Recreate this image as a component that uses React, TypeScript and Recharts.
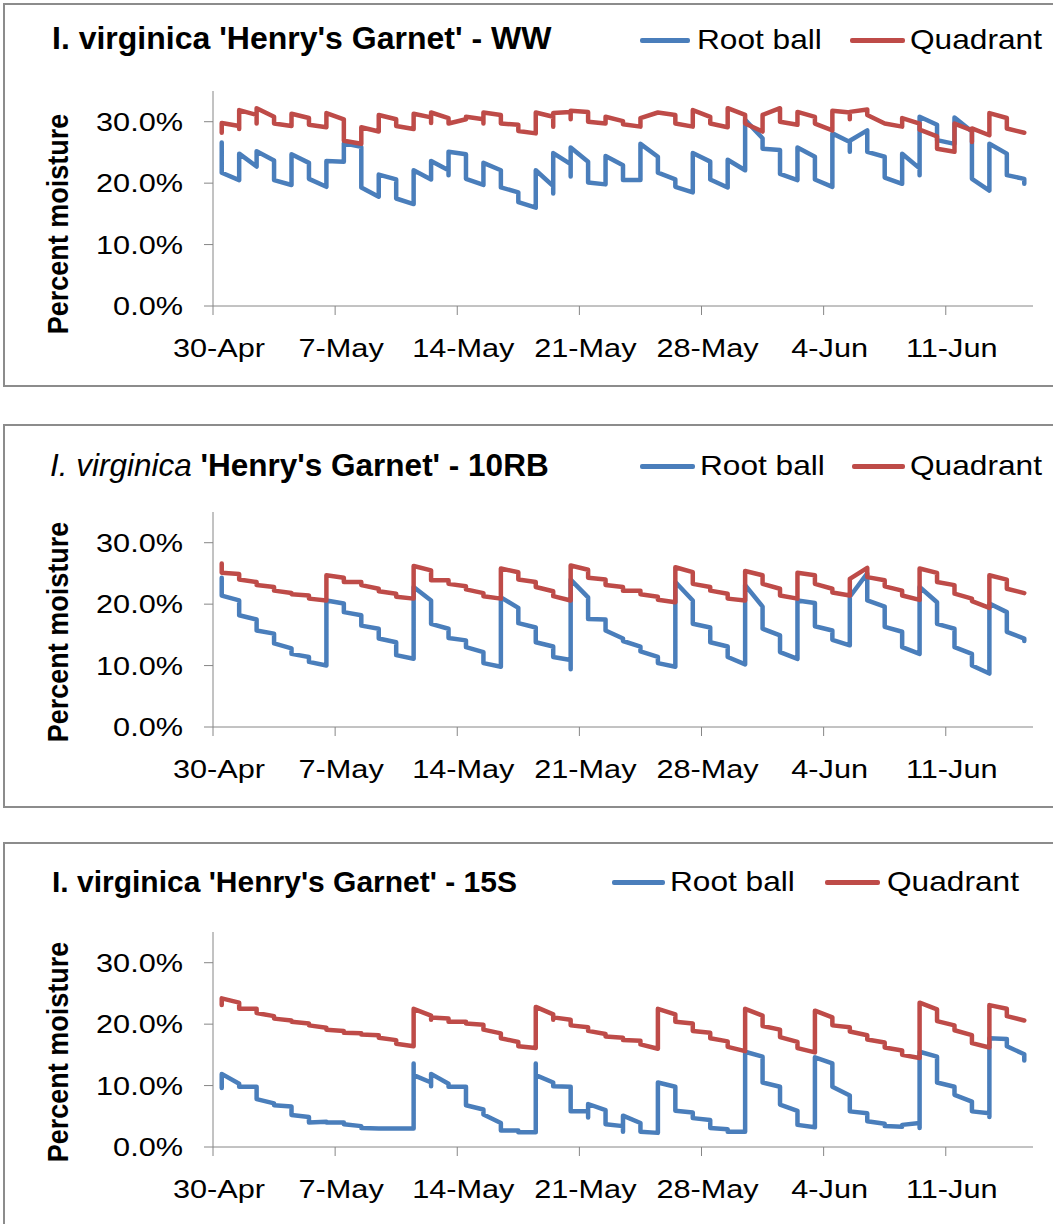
import React from 'react';
import { LineChart, Line, XAxis, YAxis, Label } from 'recharts';

// x = days since 30-Apr, ticks weekly
const DAY_TICKS = [0, 7, 14, 21, 28, 35, 42];
const DAY_LABELS = ['30-Apr', '7-May', '14-May', '21-May', '28-May', '4-Jun', '11-Jun'];
const PCT_TICKS = [0, 10, 20, 30];

// readings per day (% moisture), one inner list per day from 30-Apr to 15-Jun
const wwRootBall = [
  [26.6, 21.7], [20.5, 24.8], [22.7, 25.2], [23.7, 20.5], [19.7, 24.7], [23.3, 20.7], [19.4, 23.6],
  [23.5, 26.5], [25.9, 19.3], [17.8, 21.4], [20.6, 17.5], [16.6, 22.1], [20.6, 23.6], [22.1, 21.3, 25.1],
  [24.7, 20.7], [19.7, 23.3], [22.1, 19.3], [18.5, 16.9], [16.0, 22.1], [19.5, 18.3, 24.9], [23.1, 21.1, 25.8],
  [23.5, 20.1], [19.8, 24.4], [22.9, 20.5], [20.5, 26.4], [24.3, 21.7], [20.6, 19.4], [18.5, 24.9],
  [23.5, 20.6], [19.3, 23.8], [22.1, 30.3], [27.3, 25.6], [25.4, 21.5], [20.5, 25.8], [24.3, 20.6],
  [19.4, 28.1], [26.7, 25.1, 26.9], [28.6, 25.1], [24.3, 20.9], [19.9, 24.8], [22.4, 21.3, 30.8],
  [29.5, 27.0], [26.4, 30.7], [28.4, 20.7], [18.8, 26.4], [24.8, 21.3], [20.7, 19.9],
];
const wwQuadrant = [
  [28.2, 29.8], [29.3, 28.8, 31.9], [31.1, 29.7, 32.2], [30.8, 29.7], [29.3, 31.3], [30.6, 29.5], [29.1, 31.4],
  [30.4, 26.9], [26.4, 29.1], [28.4, 31.1], [30.4, 29.3], [28.8, 31.3], [30.7, 29.8, 31.5], [30.6, 29.7],
  [30.4, 30.8], [30.4, 29.7, 31.5], [31.1, 29.7], [29.5, 28.5], [28.1, 31.5], [30.8, 29.2, 31.4], [31.6, 30.4, 31.8],
  [31.6, 30.0], [29.7, 30.8], [30.1, 29.6], [29.2, 30.6], [31.5], [31.1, 29.7], [29.2, 31.9],
  [30.8, 29.7], [29.1, 32.2], [31.1, 29.7], [28.4, 31.1], [32.2, 30.0], [29.5, 31.6], [30.8, 29.7],
  [28.6, 31.8], [31.5, 30.4, 31.6], [32.0, 31.1], [29.7], [29.2, 30.6], [29.7, 28.7],
  [27.6, 25.6], [25.1, 29.7], [28.6, 26.7, 28.9], [27.8, 31.4], [30.6, 28.9], [28.2],
];

const rbRootBall = [
  [24.3, 21.4], [20.6, 18.2], [17.5, 15.7], [15.2, 13.6], [12.8, 11.9], [11.4, 10.6], [10.0, 20.6],
  [20.1, 18.7], [18.2, 16.5], [16.0, 14.4], [13.8, 11.7], [11.1, 22.8], [20.6, 16.8], [16.0, 14.5],
  [14.1, 13.0], [12.2, 10.4], [9.8, 21.1], [19.4, 16.9], [16.2, 13.8], [13.1, 11.4], [10.9, 9.4, 24.0],
  [21.1, 17.6], [17.5, 15.7], [14.4, 14.0], [13.1, 12.3], [11.4, 10.4], [9.8, 23.6], [20.6, 16.8],
  [16.2, 13.8], [13.1, 11.4], [10.2, 23.1], [19.6, 16.0], [14.9, 12.2], [11.1, 20.6], [20.2, 16.4],
  [15.7, 14.2], [13.3, 21.2], [25.0, 20.6], [19.6, 16.3], [15.5, 13.0], [11.9, 22.8],
  [20.3, 16.8], [16.0, 13.0], [11.9, 10.0], [8.7, 20.1], [18.7, 15.5], [14.4, 14.0],
];
const rbQuadrant = [
  [26.6, 25.1], [24.9, 24.0], [23.6, 23.1], [22.8, 22.2], [21.8, 21.6], [21.4, 20.9], [20.6, 24.7],
  [24.3, 23.6], [23.6, 23.1], [22.5, 22.1], [21.7, 21.2], [20.9, 26.2], [25.5, 23.9], [23.9, 23.3],
  [22.9, 22.4], [21.8, 21.3], [20.9, 25.8], [25.2, 24.0], [23.6, 22.8], [22.1, 21.3], [20.6, 26.3],
  [25.6, 24.3], [24.0, 23.1], [22.8, 22.2], [22.2, 21.6], [21.2, 20.7], [20.3, 26.0], [25.2, 23.3],
  [22.8, 22.2], [21.7, 20.9], [20.6, 25.4], [24.7, 23.3], [22.5, 21.4], [20.9, 25.1], [24.7, 23.3],
  [22.5, 21.9], [21.4, 24.1], [25.9, 24.4], [23.9, 22.9], [22.2, 21.4], [20.7, 25.8],
  [25.1, 23.6], [23.1, 21.7], [20.9, 20.5], [19.4, 24.7], [24.0, 22.5], [21.8],
];

const sRootBall = [
  [9.6, 11.9], [10.3, 9.8], [9.8, 7.8], [7.1, 6.8], [6.6, 5.2], [4.9, 4.0], [4.1, 4.0],
  [4.0, 3.7], [3.4, 3.1], [3.0, 3.0], [3.0, 3.0], [3.0, 13.6, 11.7], [10.5, 9.9, 11.9], [10.3, 9.8],
  [9.8, 6.8], [6.1, 5.3], [3.9, 2.7], [2.7, 2.4], [2.4, 13.6, 11.7], [10.5, 9.9], [9.8, 5.8],
  [5.8, 4.8, 7.0], [6.0, 3.7], [3.4, 2.5, 5.1], [3.9, 2.5], [2.3, 10.5], [9.8, 5.9], [5.6, 4.7],
  [4.4, 3.1], [2.9, 2.5], [2.5, 15.5], [14.7, 10.5], [9.8, 6.9], [5.9, 3.6], [3.2, 14.6],
  [13.6, 9.8], [8.4, 5.8], [5.5, 4.2], [3.8, 3.4], [3.3, 3.6], [3.9, 3.1, 15.5],
  [14.7, 10.5], [9.8, 8.5], [7.4, 5.8], [5.5, 4.9, 17.7], [17.6, 16.4], [15.1, 14.1],
];
const sQuadrant = [
  [23.1, 24.2], [23.5, 22.5], [22.5, 21.8], [21.3, 20.9], [20.6, 20.4], [20.1, 19.8], [19.4, 19.1],
  [18.9, 18.6], [18.5, 18.3], [18.2, 17.8], [17.4, 16.8], [16.4, 22.5], [21.4, 20.7, 21.1], [20.9, 20.4],
  [20.4, 20.1], [19.9, 19.1], [18.5, 17.7], [17.1, 16.4], [16.1, 22.8], [21.6, 20.7, 21.1], [20.7, 19.8],
  [19.5, 18.9], [18.4, 18.0], [17.8, 17.4], [17.3, 16.7], [16.0, 22.5], [21.6, 20.4], [20.1, 18.9],
  [18.6, 17.7], [17.2, 16.3], [15.6, 22.5], [21.4, 19.7], [19.1, 17.9], [17.1, 16.1], [15.4, 22.2],
  [21.1, 19.8], [19.5, 18.8], [18.2, 17.5], [17.0, 16.2], [15.7, 15.0], [14.5, 23.5],
  [22.4, 20.5], [19.8, 19.0], [18.2, 16.9], [16.2, 23.1], [22.5, 21.3], [20.6],
];

const BLUE = '#4a7ebb';
const RED = '#be4b48';
const AXIS = '#868686';
const FONT = "'Liberation Sans', Arial, sans-serif";

// all readings of one day sit on the same x (middle of the day)
const toPoints = (days: number[][]) =>
  days.flatMap((vals, d) => vals.map((v) => ({ day: d + 0.5, value: v })));

const XTick = (props: any) => {
  const { x, y, payload } = props;
  const label = DAY_LABELS[DAY_TICKS.indexOf(payload.value)];
  return (
    <text transform={`translate(${x + 6},${y + 42}) scale(1.18,1)`} textAnchor="middle"
      fontSize={26} fontFamily={FONT} fill="#000">
      {label}
    </text>
  );
};

const YTick = (props: any) => {
  const { x, y, payload } = props;
  return (
    <text transform={`translate(${x},${y + 9}) scale(1.18,1)`} textAnchor="end"
      fontSize={26} fontFamily={FONT} fill="#000">
      {`${payload.value.toFixed(1)}%`}
    </text>
  );
};

const PANELS = [
  {
    key: 'ww', boxTop: 3, plotTop: 91, titleX: 52, titleY: 38, titleSize: 32, legendY: 40,
    blueLine: [640, 690], blueText: 697, redLine: [850, 905], redText: 910, yLabelY: 224,
    title: <b>I. virginica 'Henry's Garnet' - WW</b>,
    root: wwRootBall, quad: wwQuadrant,
  },
  {
    key: 'rb', boxTop: 424, plotTop: 512, titleX: 50, titleY: 465, titleSize: 31.5, legendY: 466,
    blueLine: [640, 695], blueText: 700, redLine: [852, 905], redText: 910, yLabelY: 632,
    title: <b><i style={{ fontWeight: 'normal' }}>I. virginica</i> 'Henry's Garnet' - 10RB</b>,
    root: rbRootBall, quad: rbQuadrant,
  },
  {
    key: 's', boxTop: 842, plotTop: 932, titleX: 52, titleY: 882, titleSize: 30, legendY: 882,
    blueLine: [612, 665], blueText: 670, redLine: [825, 880], redText: 887, yLabelY: 1052,
    title: <b>I. virginica 'Henry's Garnet' - 15S</b>,
    root: sRootBall, quad: sQuadrant,
  },
];

const PLOT_H = 215;

function Panel({ p }: { p: any }) {
  const chartTop = p.plotTop - 10;
  const legendText = (x: number, text: string) => (
    <div style={{
      position: 'absolute', left: x, top: p.legendY - 16, height: 32, lineHeight: '32px',
      fontSize: 28, fontFamily: FONT, color: '#000', whiteSpace: 'nowrap',
      transform: 'scaleX(1.13)', transformOrigin: 'left center',
    }}>{text}</div>
  );
  const legendLine = (x: number[], color: string) => (
    <div style={{
      position: 'absolute', left: x[0], top: p.legendY - 2, width: x[1] - x[0], height: 5,
      background: color, borderRadius: 2,
    }} />
  );

  return (
    <>
      <div style={{
        position: 'absolute', left: 3, top: p.boxTop, width: 1060, height: 384, boxSizing: 'border-box',
        borderTop: '2px solid #8c8c8c', borderLeft: '2px solid #8c8c8c', borderBottom: '2px solid #8c8c8c',
      }} />
      <div style={{
        position: 'absolute', left: p.titleX, top: p.titleY - 18, height: 36, lineHeight: '36px',
        fontSize: p.titleSize, fontFamily: FONT, color: '#000', whiteSpace: 'nowrap',
      }}>{p.title}</div>
      {legendLine(p.blueLine, BLUE)}
      {legendText(p.blueText, 'Root ball')}
      {legendLine(p.redLine, RED)}
      {legendText(p.redText, 'Quadrant')}
      <div style={{ position: 'absolute', left: 0, top: chartTop }}>
        <LineChart width={1053} height={10 + PLOT_H + 70} margin={{ top: 10, right: 20, bottom: 0, left: 0 }}>
          <XAxis type="number" dataKey="day" domain={[0, 47]} ticks={DAY_TICKS} interval={0}
            height={70} tickSize={9} tickMargin={0} stroke={AXIS} tick={<XTick />} />
          <YAxis type="number" domain={[0, 35]} ticks={PCT_TICKS} width={213}
            tickSize={9} tickMargin={21} stroke={AXIS} tick={<YTick />}>
            <Label content={() => (
              <text transform={`translate(68,${p.yLabelY - chartTop}) rotate(-90) scale(1,1.12)`}
                textAnchor="middle" fontSize={27} fontWeight="bold" fontFamily={FONT} fill="#000">
                Percent moisture
              </text>
            )} />
          </YAxis>
          <Line data={toPoints(p.root)} dataKey="value" type="linear" stroke={BLUE} strokeWidth={4.5}
            dot={false} strokeLinejoin="round" strokeLinecap="round" isAnimationActive={false} />
          <Line data={toPoints(p.quad)} dataKey="value" type="linear" stroke={RED} strokeWidth={4.5}
            dot={false} strokeLinejoin="round" strokeLinecap="round" isAnimationActive={false} />
        </LineChart>
      </div>
    </>
  );
}

export default function App() {
  return (
    <div style={{
      position: 'absolute', left: 0, top: 0, width: 1053, height: 1224, overflow: 'hidden', background: '#fff',
    }}>
      {PANELS.map((p) => <Panel key={p.key} p={p} />)}
    </div>
  );
}
